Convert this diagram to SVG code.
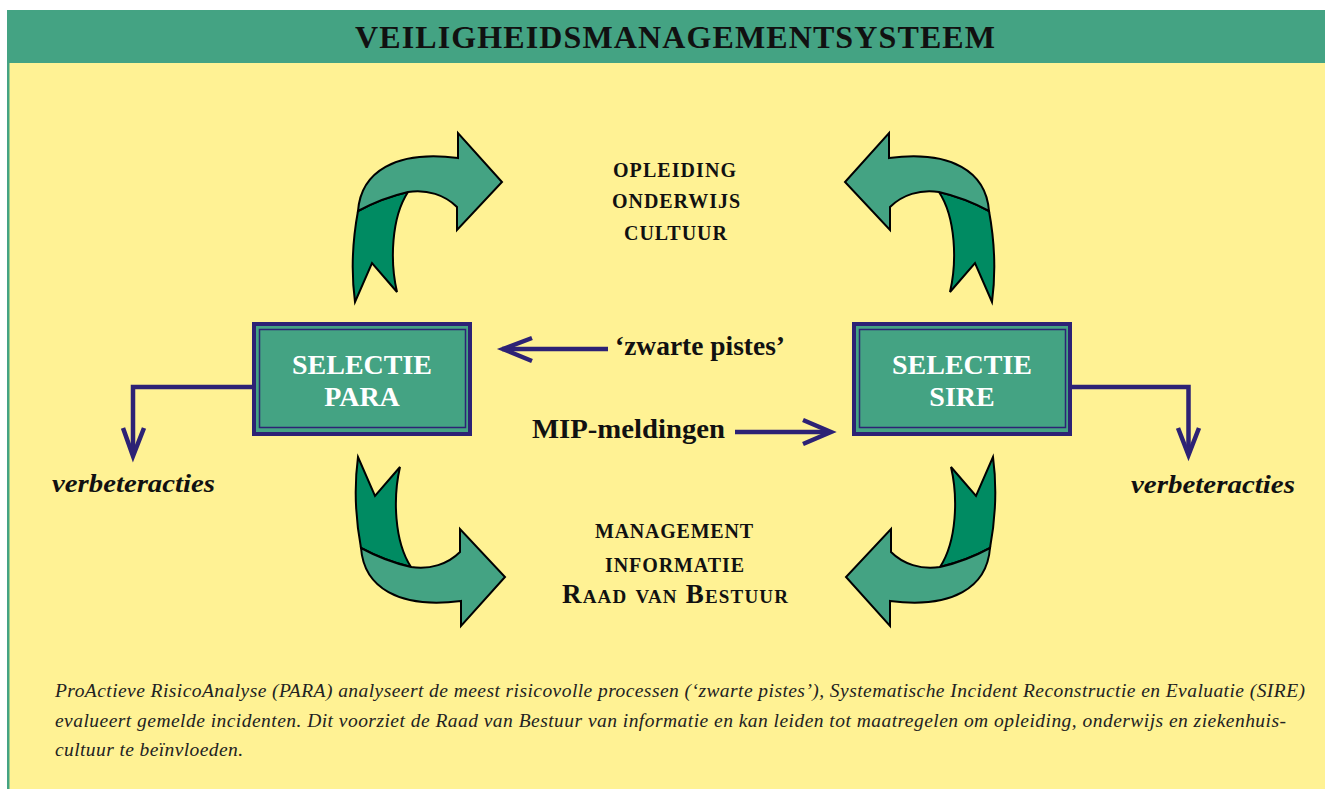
<svg xmlns="http://www.w3.org/2000/svg" xmlns:xlink="http://www.w3.org/1999/xlink" width="1325" height="789" viewBox="0 0 1325 789">
  <style>
    .serif { font-family: "Liberation Serif", "DejaVu Serif", serif; }
    .title { font-size: 32px; font-weight: bold; fill: #111; }
    .boxlbl { font-size: 28px; font-weight: bold; fill: #ffffff; text-anchor: middle; }
    .topic { font-size: 20px; font-weight: bold; fill: #111; }
    .conn-lbl { font-size: 27px; font-weight: bold; fill: #111; }
    .verb { font-size: 25px; font-weight: bold; font-style: italic; fill: #111; }
    .caption { font-size: 19.5px; font-style: italic; fill: #222; }
    .link { fill: none; stroke: #2D2275; stroke-width: 4.5; stroke-linejoin: miter; stroke-miterlimit: 10; }
    .frame-outer { fill: #44A383; stroke: #2D2275; stroke-width: 4; }
    .frame-inner { fill: none; stroke: #2D2275; stroke-width: 1.5; }
    .ribbon-dark { fill: #008B62; stroke: #000; stroke-width: 2; stroke-linejoin: miter; }
    .ribbon-light { fill: #44A383; stroke: #000; stroke-width: 2; stroke-linejoin: miter; }
  </style>
  <defs>
    <!-- curved ribbon arrow, drawn turning up-right; mirrored copies for the other corners -->
    <g id="ribbon">
      <path class="ribbon-dark" d="M 358,211 C 353,238 351,272 355,302 L 372,263 L 397,292 C 390,262 391,218 408,192 Q 382,198 358,211 Z"/>
      <path class="ribbon-light" d="M 358,211 C 361,172 395,150 458,158 L 458,133 L 502,182 L 457,230 L 457,207 C 445,195 427,189 408,192 Q 382,198 358,211 Z"/>
    </g>
  </defs>

  <!-- page -->
  <rect x="0" y="0" width="1325" height="789" fill="#ffffff"/>
  <rect x="7" y="63" width="1318" height="726" fill="#FFF294"/>
  <rect x="7" y="63" width="2.5" height="726" fill="#44A383"/>
  <rect x="7" y="10" width="1318" height="53" fill="#44A383"/>
  <text class="serif title" x="355" y="48" textLength="640" lengthAdjust="spacing">VEILIGHEIDSMANAGEMENTSYSTEEM</text>

  <!-- cycle arrows -->
  <g id="cycle-arrows">
    <use xlink:href="#ribbon"/>
    <use xlink:href="#ribbon" transform="translate(1347,0) scale(-1,1)"/>
    <use xlink:href="#ribbon" transform="translate(3,759) scale(1,-1)"/>
    <use xlink:href="#ribbon" transform="translate(1348,759) scale(-1,-1)"/>
  </g>

  <!-- nodes -->
  <g id="node-para">
    <rect class="frame-outer" x="254" y="324" width="216" height="110"/>
    <rect class="frame-inner" x="259.5" y="329.5" width="206" height="98"/>
    <text class="serif boxlbl" x="362" y="374">SELECTIE</text>
    <text class="serif boxlbl" x="362" y="406">PARA</text>
  </g>
  <g id="node-sire">
    <rect class="frame-outer" x="854" y="324" width="216" height="110"/>
    <rect class="frame-inner" x="859.5" y="329.5" width="206" height="98"/>
    <text class="serif boxlbl" x="962" y="374">SELECTIE</text>
    <text class="serif boxlbl" x="962" y="406">SIRE</text>
  </g>
  <g id="node-opleiding">
    <text class="serif topic" x="613" y="177" textLength="123" lengthAdjust="spacing">OPLEIDING</text>
    <text class="serif topic" x="612" y="208" textLength="128" lengthAdjust="spacing">ONDERWIJS</text>
    <text class="serif topic" x="624" y="240" textLength="103" lengthAdjust="spacing">CULTUUR</text>
  </g>
  <g id="node-management">
    <text class="serif topic" x="595" y="538" textLength="158" lengthAdjust="spacing">MANAGEMENT</text>
    <text class="serif topic" x="605" y="572" textLength="139" lengthAdjust="spacing">INFORMATIE</text>
    <text class="serif" x="562" y="603" font-size="27" font-weight="bold" fill="#111" font-variant="small-caps" textLength="226" lengthAdjust="spacing">Raad van Bestuur</text>
  </g>
  <g id="node-verbeteracties-left">
    <text class="serif verb" x="52" y="492" textLength="163" lengthAdjust="spacingAndGlyphs">verbeteracties</text>
  </g>
  <g id="node-verbeteracties-right">
    <text class="serif verb" x="1131" y="493" textLength="164" lengthAdjust="spacingAndGlyphs">verbeteracties</text>
  </g>

  <!-- connectors -->
  <g id="connectors">
    <path class="link" d="M 608,349 L 502,349"/>
    <path class="link" d="M 532,338 L 503,349 L 532,361"/>
    <text class="serif conn-lbl" x="615" y="355" textLength="170" lengthAdjust="spacingAndGlyphs">‘zwarte pistes’</text>

    <path class="link" d="M 735,432 L 829,432"/>
    <path class="link" d="M 803,420 L 831,432 L 803,444"/>
    <text class="serif conn-lbl" x="532" y="438" textLength="193" lengthAdjust="spacingAndGlyphs">MIP-meldingen</text>

    <path class="link" d="M 252,387 L 133,387 L 133,453"/>
    <path class="link" d="M 123,428 L 133,456 L 144,428"/>

    <path class="link" d="M 1072,387 L 1188.5,387 L 1188.5,452"/>
    <path class="link" d="M 1178,428 L 1188.5,455 L 1199,428"/>
  </g>

  <!-- caption -->
  <g id="caption">
    <text class="serif caption" x="55" y="697" textLength="1250" lengthAdjust="spacing">ProActieve RisicoAnalyse (PARA) analyseert de meest risicovolle processen (‘zwarte pistes’),  Systematische Incident Reconstructie en Evaluatie (SIRE)</text>
    <text class="serif caption" x="55" y="727" textLength="1231" lengthAdjust="spacing">evalueert gemelde incidenten. Dit voorziet de Raad van Bestuur van informatie en kan leiden tot maatregelen om opleiding, onderwijs en ziekenhuis-</text>
    <text class="serif caption" x="55" y="756" textLength="188" lengthAdjust="spacing">cultuur te beïnvloeden.</text>
  </g>
</svg>
